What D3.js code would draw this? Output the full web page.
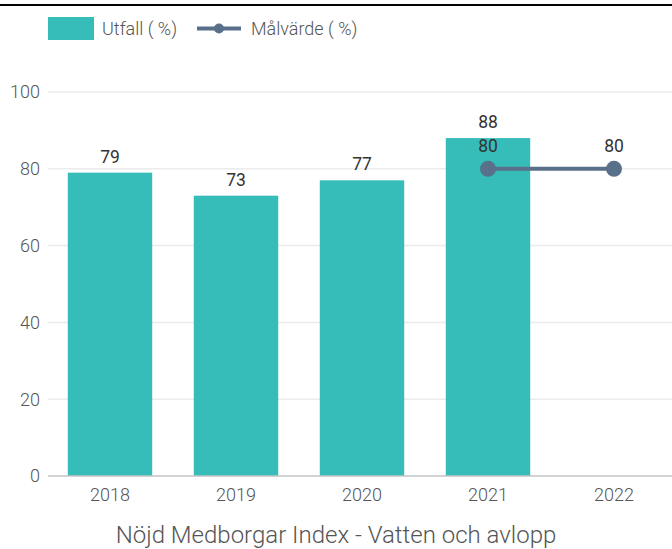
<!DOCTYPE html>
<html>
<head>
<meta charset="utf-8">
<script src="https://cdn.jsdelivr.net/npm/d3@7"></script>
<style>
  body { margin: 0; background: #fff; }
  text { font-family: Roboto, "Noto Sans", sans-serif; }
</style>
</head>
<body>
<svg></svg>
<script>
var years = ["2018", "2019", "2020", "2021", "2022"];
var utfall = [79, 73, 77, 88, null];
var malvarde = [null, null, null, 80, 80];
var yTicks = [0, 20, 40, 60, 80, 100];
var title = "Nöjd Medborgar Index - Vatten och avlopp";

var svgWidth = 672, svgHeight = 549;
var barColor = "#36bcb9", lineColor = "#587089";

var svg = d3.select("svg")
        .attr("width", svgWidth)
        .attr("height", svgHeight);

// frame line at the top
svg.append("rect")
        .attr("x", 0).attr("y", 4)
        .attr("width", svgWidth).attr("height", 2)
        .attr("fill", "#000");

var x = d3.scaleBand()
        .domain(years)
        .range([47, 677])
        .paddingInner(0.33)
        .paddingOuter(0.165);

var y = d3.scaleLinear()
        .domain([0, 100])
        .range([476, 92]);

// grid + y labels
svg.selectAll(".grid")
        .data(yTicks.filter(function(d) {return d > 0;}))
        .enter()
        .append("line")
        .attr("x1", 48).attr("x2", svgWidth)
        .attr("y1", function(d) {return y(d);})
        .attr("y2", function(d) {return y(d);})
        .attr("stroke", "#ececec")
        .attr("stroke-width", 1.5);

svg.selectAll(".ylab")
        .data(yTicks)
        .enter()
        .append("text")
        .attr("x", 40)
        .attr("y", function(d) {return y(d);})
        .attr("dy", "0.36em")
        .attr("text-anchor", "end")
        .attr("font-size", 18)
        .attr("font-weight", 300)
        .attr("fill", "#555")
        .text(function(d) {return d;});

// bars
var barData = years.map(function(d, i) {return {year: d, v: utfall[i]};})
        .filter(function(d) {return d.v != null;});

svg.selectAll(".bar")
        .data(barData)
        .enter()
        .append("rect")
        .attr("x", function(d) {return x(d.year);})
        .attr("y", function(d) {return y(d.v);})
        .attr("width", x.bandwidth())
        .attr("height", function(d) {return y(0) - y(d.v);})
        .attr("fill", barColor);

svg.selectAll(".barlab")
        .data(barData)
        .enter()
        .append("text")
        .attr("x", function(d) {return x(d.year) + x.bandwidth() / 2;})
        .attr("y", function(d) {return y(d.v) - 10;})
        .attr("text-anchor", "middle")
        .attr("font-size", 17.5)
        .attr("fill", "#333")
        .text(function(d) {return d.v;});

// x axis line
svg.append("line")
        .attr("x1", 48).attr("x2", svgWidth)
        .attr("y1", y(0)).attr("y2", y(0))
        .attr("stroke", "#c4c4c4")
        .attr("stroke-width", 1.5);

svg.selectAll(".xlab")
        .data(years)
        .enter()
        .append("text")
        .attr("x", function(d) {return x(d) + x.bandwidth() / 2;})
        .attr("y", 500.5)
        .attr("text-anchor", "middle")
        .attr("font-size", 18)
        .attr("font-weight", 300)
        .attr("fill", "#555")
        .text(function(d) {return d;});

// target line
var lineData = years.map(function(d, i) {return {year: d, v: malvarde[i]};})
        .filter(function(d) {return d.v != null;});

var line = d3.line()
        .x(function(d) {return x(d.year) + x.bandwidth() / 2;})
        .y(function(d) {return y(d.v);});

svg.append("path")
        .datum(lineData)
        .attr("d", line)
        .attr("fill", "none")
        .attr("stroke", lineColor)
        .attr("stroke-width", 4);

svg.selectAll(".dot")
        .data(lineData)
        .enter()
        .append("circle")
        .attr("cx", function(d) {return x(d.year) + x.bandwidth() / 2;})
        .attr("cy", function(d) {return y(d.v);})
        .attr("r", 8)
        .attr("fill", lineColor);

svg.selectAll(".dotlab")
        .data(lineData)
        .enter()
        .append("text")
        .attr("x", function(d) {return x(d.year) + x.bandwidth() / 2;})
        .attr("y", function(d) {return y(d.v) - 16.5;})
        .attr("text-anchor", "middle")
        .attr("font-size", 17.5)
        .attr("fill", "#333")
        .text(function(d) {return d.v;});

// legend
var legend = svg.append("g");
legend.append("rect")
        .attr("x", 48).attr("y", 17)
        .attr("width", 46).attr("height", 23)
        .attr("fill", barColor);
legend.append("text")
        .attr("x", 102).attr("y", 35)
        .attr("font-size", 18)
        .attr("font-weight", 300)
        .attr("fill", "#555")
        .text("Utfall ( %)");
legend.append("line")
        .attr("x1", 197).attr("x2", 241)
        .attr("y1", 28.5).attr("y2", 28.5)
        .attr("stroke", lineColor)
        .attr("stroke-width", 4);
legend.append("circle")
        .attr("cx", 219).attr("cy", 28.5)
        .attr("r", 5)
        .attr("fill", lineColor);
legend.append("text")
        .attr("x", 251).attr("y", 35)
        .attr("font-size", 18)
        .attr("font-weight", 300)
        .attr("fill", "#555")
        .text("Målvärde ( %)");

// title
svg.append("text")
        .attr("x", 336)
        .attr("y", 543)
        .attr("text-anchor", "middle")
        .attr("font-size", 24)
        .attr("font-weight", 300)
        .attr("fill", "#555")
        .text(title);
</script>
</body>
</html>
